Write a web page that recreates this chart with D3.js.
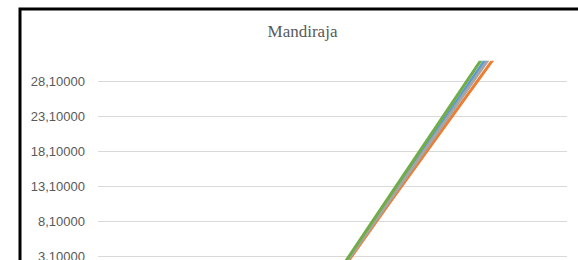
<!DOCTYPE html>
<html>
  <head>
    <meta charset="UTF-8" />
    <title>Mandiraja</title>
    <style>
      body {
        margin: 0;
        background: #fff;
      }
      svg {
        display: block;
      }
    </style>
    <script src="https://d3js.org/d3.v7.min.js"></script>
  </head>
  <body>
    <main id="viz"></main>
    <script>
      // data (series leave the plot above and below)
      const categories = ['1', '2', '3', '4'];
      const seriesNames = ['Series1', 'Series2', 'Series3', 'Series4'];
      const seriesColors = ['#5b9bd5', '#ed7d31', '#a5a5a5', '#70ad47'];
      const series1 = [-38.5, -12.8, 11.6, 35.96];
      const series2 = [-37.4, -12.6, 11.0, 34.2];
      const series3 = [-37.9, -12.6, 11.33, 35.26];
      const series4 = [-39.0, -12.9, 12.0, 36.9];
      const tickValues = [-1.9, 3.1, 8.1, 13.1, 18.1, 23.1, 28.1];
      const yMin = -1.9;
      const yMax = 31;
      const chartTitle = 'Mandiraja';

      class LineChart {
        constructor(id) {
          this.div = id;
          this.width = 578;
          this.height = 260;
          this.plot = { left: 98, right: 567, top: 60.7, bottom: 291 };
          this.add_svg();
          this.add_scale();
          this.add_grid();
          this.draw_lines();
        }

        add_svg() {
          const div = d3.select(`#${this.div}`);
          div.selectAll('*').remove();
          this.svg = div
            .append('svg')
            .attr('width', this.width)
            .attr('height', this.height);

          // chart area border, cut off at right and bottom like the reference
          this.svg
            .append('rect')
            .attr('x', 20)
            .attr('y', 9)
            .attr('width', 564)
            .attr('height', 320)
            .attr('fill', '#fff')
            .attr('stroke', '#000')
            .attr('stroke-width', 3);

          this.svg
            .append('text')
            .attr('x', 302.5)
            .attr('y', 37)
            .attr('text-anchor', 'middle')
            .style('font-family', "'Liberation Serif', serif")
            .style('font-size', '17px')
            .attr('fill', '#595959')
            .text(chartTitle);

          this.svg
            .append('defs')
            .append('clipPath')
            .attr('id', 'plot-clip')
            .append('rect')
            .attr('x', this.plot.left)
            .attr('y', this.plot.top)
            .attr('width', this.plot.right - this.plot.left)
            .attr('height', this.plot.bottom - this.plot.top);
        }

        add_scale() {
          this.x = d3
            .scaleBand()
            .domain(categories)
            .range([this.plot.left, this.plot.right]);
          this.y = d3
            .scaleLinear()
            .domain([yMin, yMax])
            .range([this.plot.bottom, this.plot.top]);
        }

        add_grid() {
          const fmt = (d) => d.toFixed(5).replace('.', ',');
          const axis = this.svg
            .append('g')
            .attr('transform', `translate(${this.plot.left},0)`)
            .call(
              d3
                .axisLeft(this.y)
                .tickValues(tickValues)
                .tickFormat(fmt)
                .tickSize(-(this.plot.right - this.plot.left))
                .tickPadding(13)
            );
          axis.select('.domain').remove();
          axis
            .selectAll('.tick line')
            .attr('stroke', '#d9d9d9')
            .attr('stroke-width', 1);
          axis
            .selectAll('.tick text')
            .attr('fill', '#595959')
            .style('font-family', "'Liberation Sans', sans-serif")
            .style('font-size', '13px');
        }

        draw_lines() {
          const all = [series1, series2, series3, series4];
          const line = d3
            .line()
            .x((d, i) => this.x(categories[i]) + this.x.bandwidth() / 2)
            .y((d) => this.y(d));
          this.svg
            .append('g')
            .attr('clip-path', 'url(#plot-clip)')
            .selectAll('path')
            .data(all)
            .join('path')
            .attr('class', (d, i) => seriesNames[i])
            .attr('d', line)
            .attr('fill', 'none')
            .attr('stroke', (d, i) => seriesColors[i])
            .attr('stroke-width', 3)
            .attr('stroke-linejoin', 'round');
        }
      }

      new LineChart('viz');
    </script>
  </body>
</html>
